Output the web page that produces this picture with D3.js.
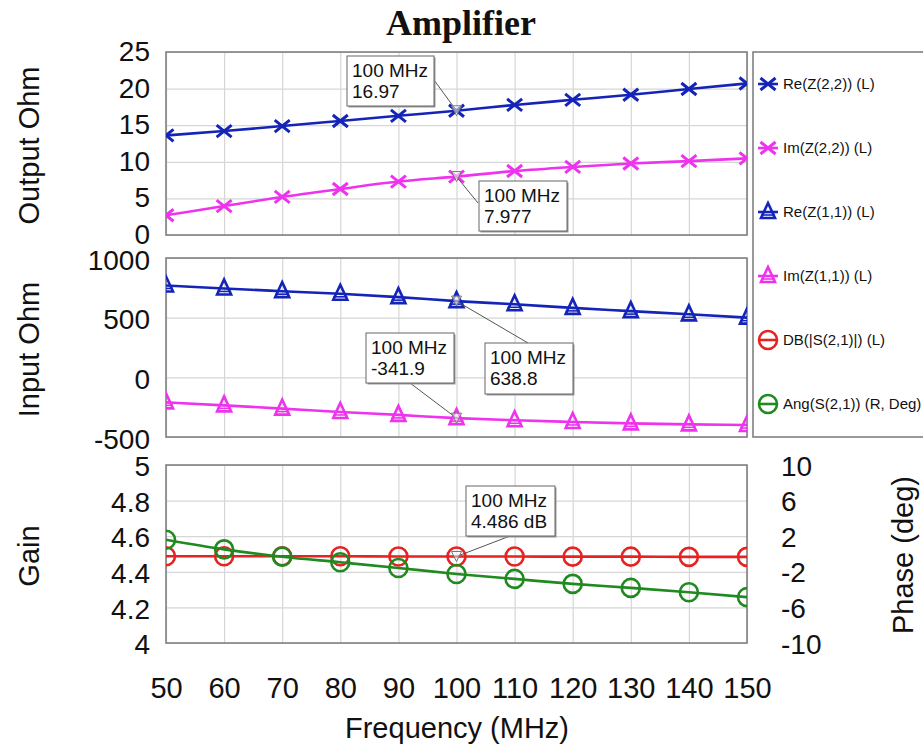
<!DOCTYPE html>
<html>
<head>
<meta charset="utf-8">
<script src="https://cdn.jsdelivr.net/npm/d3@7"></script>
<style>
  html, body { margin: 0; padding: 0; background: #fff; }
  svg { display: block; }
  text { font-family: Arial, "Liberation Sans", sans-serif; fill: #111; }
</style>
</head>
<body>
<svg id="chart" width="923" height="747"></svg>
<script>
// Frequency sweep (MHz)
const freq = [50, 60, 70, 80, 90, 100, 110, 120, 130, 140, 150];

// Output impedance Z(2,2), ohm
const reZ22 = [13.6, 14.2, 14.88, 15.58, 16.28, 16.97, 17.77, 18.47, 19.16, 19.95, 20.7];
const imZ22 = [2.7, 3.95, 5.2, 6.28, 7.3, 7.977, 8.74, 9.3, 9.77, 10.09, 10.47];

// Input impedance Z(1,1), ohm
const reZ11 = [770, 745, 722, 700, 672, 638.8, 612, 582, 555, 528, 500];
const imZ11 = [-210, -235, -262, -290, -315, -341.9, -360, -374, -386, -394, -400];

// Gain |S21| in dB and phase of S21 in degrees
const dbS21 = [4.487, 4.487, 4.487, 4.487, 4.486, 4.486, 4.486, 4.485, 4.485, 4.484, 4.484];
const angS21 = [1.6, 0.52, -0.3, -0.93, -1.57, -2.24, -2.8, -3.36, -3.81, -4.29, -4.85];

// Tick values
const xTicks = [50, 60, 70, 80, 90, 100, 110, 120, 130, 140, 150];
const outTicks = [0, 5, 10, 15, 20, 25];
const inTicks = [-500, 0, 500, 1000];
const gainTicks = [4, 4.2, 4.4, 4.6, 4.8, 5];
const phaseTicks = [-10, -6, -2, 2, 6, 10];

const legendNames = ["Re(Z(2,2)) (L)", "Im(Z(2,2)) (L)", "Re(Z(1,1)) (L)", "Im(Z(1,1)) (L)", "DB(|S(2,1)|) (L)", "Ang(S(2,1)) (R, Deg)"];

const BLUE = "#1424b8", MAG = "#ee33ee", RED = "#e62222", GREEN = "#1f8a1f";
const FONT = "Arial, 'Liberation Sans', sans-serif";
const FS = "29px";      // axis titles
const TICK_FS = "28px"; // tick labels
const plain = d => String(d);   // ASCII hyphen for negatives

const svg = d3.select("#chart");
const X0 = 166, X1 = 747;
const x = d3.scaleLinear().domain([50, 150]).range([X0, X1]);

const panels = [
  { id: "p1", top: 52, bottom: 235, domain: [0, 25], ticks: outTicks, title: "Output Ohm", dy: "0.3em" },
  { id: "p2", top: 258, bottom: 437, domain: [-500, 1000], ticks: inTicks, title: "Input Ohm", dy: "0.4em" },
  { id: "p3", top: 465, bottom: 643, domain: [4, 5], ticks: gainTicks, title: "Gain", dy: "0.38em" }
];
panels.forEach(p => { p.y = d3.scaleLinear().domain(p.domain).range([p.bottom, p.top]); });
const yPhase = d3.scaleLinear().domain([-10, 10]).range([panels[2].bottom, panels[2].top]);

const defs = svg.append("defs");
panels.forEach(p => {
  defs.append("clipPath").attr("id", "clip-" + p.id)
    .append("rect").attr("x", X0).attr("y", p.top).attr("width", X1 - X0).attr("height", p.bottom - p.top);
});

// Title
svg.append("text").attr("x", 461).attr("y", 35).attr("text-anchor", "middle")
  .style("font-family", "'Liberation Serif', 'Times New Roman', serif")
  .style("font-weight", "bold").style("font-size", "36px").text("Amplifier");

function styleLabels(sel, dy) {
  sel.select(".domain").remove();
  sel.selectAll("text").style("font-size", TICK_FS).attr("fill", "#111").attr("dy", dy)
    .style("font-family", FONT);
}

// Grid, frames, y axes
panels.forEach(p => {
  const g = svg.append("g");
  g.append("g").attr("transform", `translate(0,${p.bottom})`)
    .call(d3.axisBottom(x).tickValues(xTicks).tickSize(-(p.bottom - p.top)).tickFormat(""))
    .call(a => a.select(".domain").remove())
    .call(a => a.selectAll("line").attr("stroke", "#d6d6d6").attr("stroke-width", 1.2));
  g.append("g").attr("transform", `translate(${X0},0)`)
    .call(d3.axisLeft(p.y).tickValues(p.ticks).tickSize(-(X1 - X0)).tickFormat(""))
    .call(a => a.select(".domain").remove())
    .call(a => a.selectAll("line").attr("stroke", "#d6d6d6").attr("stroke-width", 1.2));
  g.append("rect").attr("x", X0).attr("y", p.top).attr("width", X1 - X0).attr("height", p.bottom - p.top)
    .attr("fill", "none").attr("stroke", "#808080").attr("stroke-width", 1.6);
  // left tick labels
  const lab = svg.append("g").attr("transform", `translate(150,0)`)
    .call(d3.axisLeft(p.y).tickValues(p.ticks).tickSize(0).tickPadding(0).tickFormat(plain));
  styleLabels(lab, p.dy);
  // axis title
  svg.append("text").attr("transform", `translate(39,${(p.top + p.bottom) / 2 + 2}) rotate(-90)`)
    .attr("text-anchor", "middle").style("font-size", FS).text(p.title);
});

// right phase axis
const rAx = svg.append("g").attr("transform", "translate(781,0)")
  .call(d3.axisRight(yPhase).tickValues(phaseTicks).tickSize(0).tickPadding(0).tickFormat(plain));
styleLabels(rAx, "0.36em");
svg.append("text").attr("transform", `translate(913,555) rotate(-90)`)
  .attr("text-anchor", "middle").style("font-size", FS).text("Phase (deg)");

// x axis labels
const xAx = svg.append("g").attr("transform", "translate(0,688)")
  .call(d3.axisBottom(x).tickValues(xTicks).tickSize(0).tickPadding(0).tickFormat(plain));
styleLabels(xAx, "0.36em");
xAx.selectAll("text").style("font-size", FS);
svg.append("text").attr("x", 457).attr("y", 738).attr("text-anchor", "middle")
  .style("font-size", FS).text("Frequency (MHz)");

// marker shapes
function drawMarker(g, kind, cx, cy, color) {
  if (kind === "x") {
    g.append("path").attr("d", `M${cx - 7.5},${cy - 6}L${cx + 7.5},${cy + 6}M${cx - 7.5},${cy + 6}L${cx + 7.5},${cy - 6}`)
      .attr("stroke", color).attr("stroke-width", 3).attr("fill", "none");
  } else if (kind === "tri") {
    g.append("path").attr("d", `M${cx},${cy - 9}L${cx + 7},${cy + 6}L${cx - 7},${cy + 6}Z`)
      .attr("stroke", color).attr("stroke-width", 2.6).attr("fill", "none");
    g.append("path").attr("d", `M${cx - 7},${cy + 3}L${cx + 7},${cy + 3}`)
      .attr("stroke", color).attr("stroke-width", 1.6);
  } else {
    g.append("circle").attr("cx", cx).attr("cy", cy).attr("r", 9)
      .attr("stroke", color).attr("stroke-width", 2.6).attr("fill", "none");
  }
}

const series = [
  { vals: reZ22, panel: 0, color: BLUE, kind: "x" },
  { vals: imZ22, panel: 0, color: MAG, kind: "x" },
  { vals: reZ11, panel: 1, color: BLUE, kind: "tri" },
  { vals: imZ11, panel: 1, color: MAG, kind: "tri" },
  { vals: dbS21, panel: 2, color: RED, kind: "circle" },
  { vals: angS21, panel: 2, color: GREEN, kind: "circle", right: true }
];

series.forEach(s => {
  const p = panels[s.panel];
  const ys = s.right ? yPhase : p.y;
  const g = svg.append("g").attr("clip-path", `url(#clip-${p.id})`);
  const line = d3.line().x((d, i) => x(freq[i])).y(d => ys(d)).curve(d3.curveMonotoneX);
  g.append("path").datum(s.vals).attr("d", line).attr("fill", "none")
    .attr("stroke", s.color).attr("stroke-width", 2.6);
  s.vals.forEach((v, i) => drawMarker(g, s.kind, x(freq[i]), ys(v), s.color));
});

// markers at 100 MHz with readout boxes
const readouts = [
  { panel: 0, v: reZ22[5], lines: ["100 MHz", "16.97"], box: [347, 56, 87, 50], anchor: [434, 80] },
  { panel: 0, v: imZ22[5], lines: ["100 MHz", "7.977"], box: [479, 181, 88, 50], anchor: [478, 203] },
  { panel: 1, v: reZ11[5], lines: ["100 MHz", "638.8"], box: [485, 343, 88, 51], anchor: [528, 343] },
  { panel: 1, v: imZ11[5], lines: ["100 MHz", "-341.9"], box: [366, 333, 88, 50], anchor: [410, 383] },
  { panel: 2, v: dbS21[5], lines: ["100 MHz", "4.486 dB"], box: [466, 486, 89, 50], anchor: [510, 536] }
];
readouts.forEach(r => {
  const p = panels[r.panel];
  const px = x(100), py = p.y(r.v);
  svg.append("line").attr("x1", r.anchor[0]).attr("y1", r.anchor[1]).attr("x2", px).attr("y2", py)
    .attr("stroke", "#555").attr("stroke-width", 1);
  svg.append("path").attr("d", `M${px - 5},${py - 5}L${px + 5},${py - 5}L${px},${py + 5}Z`)
    .attr("fill", "rgba(255,255,255,0.5)").attr("stroke", "#777").attr("stroke-width", 1);
  const [bx, by, bw, bh] = r.box;
  svg.append("rect").attr("x", bx + 1.5).attr("y", by + 1.5).attr("width", bw).attr("height", bh).attr("fill", "#999");
  svg.append("rect").attr("x", bx).attr("y", by).attr("width", bw).attr("height", bh)
    .attr("fill", "#fff").attr("stroke", "#666").attr("stroke-width", 1);
  r.lines.forEach((t, i) => {
    svg.append("text").attr("x", bx + 5).attr("y", by + 21 + i * 21)
      .style("font-size", "19px").text(t);
  });
});

// legend
svg.append("rect").attr("x", 753).attr("y", 52).attr("width", 175).attr("height", 385)
  .attr("fill", "none").attr("stroke", "#808080").attr("stroke-width", 1.6);
const lg = svg.append("g");
series.forEach((s, i) => {
  const cy = 84 + i * 64;
  const cx = 768;
  lg.append("line").attr("x1", cx - 10).attr("x2", cx + 10).attr("y1", cy).attr("y2", cy)
    .attr("stroke", s.color).attr("stroke-width", 2.6);
  drawMarker(lg, s.kind, cx, cy, s.color);
  lg.append("text").attr("x", cx + 15).attr("y", cy).attr("dy", "0.36em")
    .style("font-size", "15px").text(legendNames[i]);
});
</script>
</body>
</html>
